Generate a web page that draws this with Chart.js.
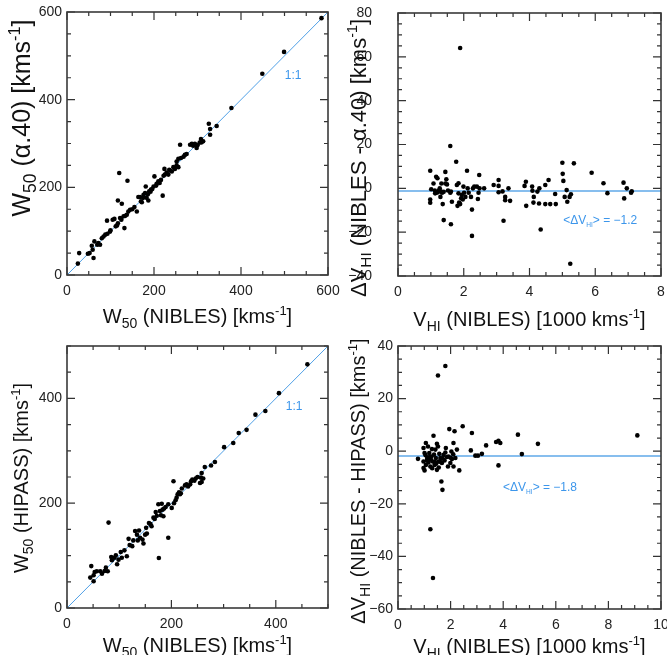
<!DOCTYPE html>
<html><head><meta charset="utf-8">
<script src="https://cdn.jsdelivr.net/npm/chart.js@4"></script>
<style>
html,body{margin:0;padding:0;background:#fff;width:667px;height:655px;overflow:hidden}
canvas{position:absolute;left:0;top:0;pointer-events:none}
</style></head><body>
<canvas id="c1" width="667" height="655"></canvas>
<canvas id="c2" width="667" height="655"></canvas>
<canvas id="c3" width="667" height="655"></canvas>
<canvas id="c4" width="667" height="655"></canvas>
<script>
// ---------- DATA ----------
// Panel 1: W50 NIBLES vs W50 alpha.40
const w50NiblesA = [25,28,48,57,59,61,63,69.5,76,80, 84,88,93,92,99,105,109,112,117,122,
  125,132,130,134,137.5,141,145,155,160.5,117, 126,120,139,164,168,172,176,179.5,181,183,
  187,189,193,199,201,206,210,216,220,222, 225,224,229,235,241,244.5,248,252,256,262,
  260,271,283,287,290,294,298,308,309.5,313, 326,329,329,344,378,449,499,585,
  170,175,186,192,196,205,213,233,238,252, 256,268,275,300,305,100,115,150,72,52];
const w50Alpha = [26,50,48.6,66.8,57.7,38.7,76.7,69,69,84, 88,92,94,124,99,126,128,111,118,130,
  126,107,134,135,137.6,145,149,155,145,170, 162.6,232.6,215,178,178,166,183,187,202,176,
  170,191,195,202,225,208,214,217,181,226.5, 229,242,234,240,236,246,242,259,265,267,
  297,274,297,299.5,295,299.5,290,310,302.6,305, 345,333,320,340,381,459,509,586,
  168,176,184,190,196,204,210,229,238,250, 246,270,276,296,302,102,113,150,73,50];
const oneToOneA = [0, 600];

// Panel 2: V_HI NIBLES [1000 km/s] vs dV (NIBLES - alpha.40)
const vhiA = [0.98,0.98,0.98,1.01,1.08,1.16,1.2,1.13,1.18,1.24,
  1.27,1.29,1.32,1.34,1.36,1.39,1.44,1.44,1.47,1.49,
  1.39,1.59,1.61,1.59,1.61,1.64,1.77,1.79,1.84,1.84,
  1.81,1.89,1.89,1.94,1.97,1.99,2.01,2.05,2.1,2.12,
  2.15,2.22,2.25,2.25,2.28,2.32,2.4,2.45,2.43,2.47,
  2.48,2.62,2.91,3.06,3.06,3.06,3.18,3.21,3.26,3.26,
  3.36,3.41,3.85,3.89,3.9,4.08,4.09,4.12,4.13,4.24,
  4.29,4.3,4.34,4.48,4.48,4.58,4.63,4.78,4.8,5.0,
  5.01,5.03,5.07,5.13,5.15,5.22,5.26,5.35,5.24,5.89,
  6.25,6.37,6.86,6.88,6.96,7.11,7.09,1.12,1.22,1.3,
  1.52,1.92,1.86];
const dvA = [8.0,-5.1,-6.6,-0.4,2.2,5.3,4.6,-2.3,-2.0,-1.1,
  0,-3.9,2.2,-2.0,-7.2,-1.6,2.2,7.5,4.1,1.8,
  -14.5,-2.0,-1.5,19.3,-16.4,-6.1,12.1,1.5,2.3,-2.3,
  -8.0,-7.2,64,-3.0,-5.1,0.8,-2.0,-3.9,8.0,0,
  -2.0,-3.9,-9.7,-21.7,0,0.8,0.8,-2.0,-4.9,6.1,
  0,0,1.5,1.1,3.8,-1.8,-1.4,-14.8,-3.9,-5.4,
  0,-5.7,1.1,3.0,-8.0,0.8,-1.1,-6.5,-3.9,-1.5,
  -6.9,0,-18.8,-7.2,1.5,3.8,-7.2,-2.6,-7.2,11.7,
  6.6,3.4,-3.9,-0.8,-6.1,-3.9,-2.7,11.4,-34.4,7.1,
  2.3,-2.2,2.6,-4.6,0,-1.3,-2.0,-1.0,-1.6,-1.4,
  -1.0,-4.5,-6.5];
const meanA = [-1.2];

// Panel 3: W50 NIBLES vs W50 HIPASS
const w50NiblesH = [46.5,44.6,51,53,51,57,63.7,67,72,74.5,
  78,79.6,84.7,86,91,93.6,96,98.7,103,105,
  110,114.6,118,120,127,130.5,134,135.6,138,140,
  144.6,146.5,149.7,151.6,153,157,162,165.6,170,175,
  176,178,180,181.5,183,184.7,189,194,194,200.6,
  204,208,210,212,214.6,216.5,220,226,229,237.6,
  240,246.5,250,256.7,254.8,258,261,258,264,276,
  283.4,301,318.5,329,344,361,380,406,460.5,
  168,172,186,205,218,232,236,244,125,160];
const w50Hipass = [80,58,62.4,68.8,51,70,70,65.6,70.7,77,
  70,163,97.4,91,96,100.6,83.4,92.3,107,96,
  110,98.7,132,120,129,147,140,129,148,134,
  130.5,123,140,153,142,162,156,172.4,183,198,
  95.5,185,177,199,187.7,175,192.8,134,198,191,
  241.8,205.5,210.6,217,221,217,228,234,236,242,
  245,247,250,248.8,238.6,240.5,247,257.7,269,272,
  278.7,307,315,334,340,369,376,410,465,
  170,176,190,200,219,232,236,243,118,160];
const oneToOneH = [0, 500];

// Panel 4: V_HI NIBLES [1000 km/s] vs dV (NIBLES - HIPASS)
const vhiH = [0.76,0.97,1.01,0.97,0.97,1.01,1.06,1.06,1.11,1.14,
  1.16,1.19,1.23,1.27,1.29,1.32,1.35,1.37,1.39,1.42,
  1.44,1.48,1.48,1.52,1.54,1.57,1.61,1.65,1.67,1.69,
  1.73,1.77,1.8,1.82,1.86,1.9,1.92,1.95,1.99,2.03,
  2.05,2.11,2.11,2.15,2.18,2.24,2.33,2.46,2.77,2.81,
  2.94,3.04,3.19,3.35,3.73,3.82,3.89,3.82,4.56,4.71,
  5.32,9.1,1.52,1.8,1.23,1.33,1.1,1.2,1.25,1.3,
  1.45,1.55,1.6,1.7,2.0,2.1,1.4,1.05];
const dvH = [-2.9,1.2,-0.7,-3.9,-6.4,-7.3,-5.2,3.1,-2.6,1.8,
  -4.3,-0.7,-5.8,-2.0,0.8,-3.9,5.9,-1.3,-5.2,0.6,
  -2.6,-7.1,2.8,1.8,-3.9,-1.0,-2.6,-11.5,-4.5,-14.7,
  -1.4,-3.5,-0.5,1.2,-2.2,-5.8,-2.0,8.4,-4.5,-0.1,
  -3.0,-5.8,3.1,7.6,-2.6,0.6,-7.3,9.5,0.3,6.9,
  -1.7,-1.7,-1.0,2.2,3.5,4.0,3.1,-5.4,6.3,-1.1,
  2.8,6.0,28.8,32.4,-29.7,-48.2,-3.5,-2.2,-3.2,-6.5,
  -4.8,-6.2,-4.0,-2.8,-2.5,-1.2,-4.0,-1.5];
const meanH = [-1.8];

// ---------- DRAWING ----------
const FONT = '"Liberation Sans", Arial, Helvetica, sans-serif';
const BLUE_TXT = 'rgb(60,150,235)';
const N = t => ({t, k: 'n'});
const SUB = t => ({t, k: 'sub'});
const SUP = t => ({t, k: 'sup'});

function segFont(k, size) {
  if (k === 'sub') return {s: size * 0.7, dy: size * 0.25};
  if (k === 'sup') return {s: size * 0.65, dy: -size * 0.4};
  return {s: size, dy: 0};
}

function richText(ctx, segs, x, y, size, rot, color, subScale) {
  ctx.save();
  ctx.translate(x, y);
  if (rot) ctx.rotate(-Math.PI / 2);
  ctx.fillStyle = color || '#111';
  ctx.textBaseline = 'alphabetic';
  ctx.textAlign = 'left';
  const items = segs.map(s => {
    const f = segFont(s.k, size);
    if (s.k === 'sub' && subScale) f.s = size * subScale;
    return {t: s.t, s: f.s, dy: f.dy};
  });
  let total = 0;
  for (const s of items) { ctx.font = s.s + 'px ' + FONT; total += ctx.measureText(s.t).width; }
  let cx = -total / 2;
  const base = size * 0.36;
  for (const s of items) {
    ctx.font = s.s + 'px ' + FONT;
    ctx.fillText(s.t, cx, s.dy + base);
    cx += ctx.measureText(s.t).width;
  }
  ctx.restore();
}

const kms = [N(' [kms'), SUP('-1'), N(']')];
const w50 = [N('W'), SUB('50')];
const vhiTitle = [N('V'), SUB('HI'), N(' (NIBLES) [1000 kms'), SUP('-1'), N(']')];

const fmt = v => (v < 0 ? '\u2212' + Math.abs(v) : '' + v);

function makeChart(id, c) {
  const canvas = document.getElementById(id);
  const W = canvas.width, H = canvas.height;
  const frame = {
    id: 'frame' + id,
    afterDraw(chart) {
      const ctx = chart.ctx, a = chart.chartArea;
      const xs = chart.scales.x, ys = chart.scales.y;
      ctx.save();
      ctx.strokeStyle = '#333';
      ctx.lineWidth = 1.2;
      const nx = Math.round((c.xMax - c.xMin) / c.xMinor);
      for (let i = 0; i <= nx; i++) {
        const v = c.xMin + i * c.xMinor;
        const r = v / c.xStep;
        const len = Math.abs(r - Math.round(r)) < 1e-6 ? 8 : 4;
        const p = xs.getPixelForValue(v);
        ctx.beginPath();
        ctx.moveTo(p, a.bottom); ctx.lineTo(p, a.bottom - len);
        ctx.moveTo(p, a.top); ctx.lineTo(p, a.top + len);
        ctx.stroke();
      }
      const ny = Math.round((c.yMax - c.yMin) / c.yMinor);
      for (let i = 0; i <= ny; i++) {
        const v = c.yMin + i * c.yMinor;
        const r = v / c.yStep;
        const len = Math.abs(r - Math.round(r)) < 1e-6 ? 8 : 4;
        const p = ys.getPixelForValue(v);
        ctx.beginPath();
        ctx.moveTo(a.left, p); ctx.lineTo(a.left + len, p);
        ctx.moveTo(a.right, p); ctx.lineTo(a.right - len, p);
        ctx.stroke();
      }
      ctx.lineWidth = 1.6;
      ctx.strokeStyle = '#3a3a3a';
      ctx.strokeRect(a.left, a.top, a.right - a.left, a.bottom - a.top);
      ctx.restore();
      for (const n of c.notes) {
        richText(ctx, n.segs, xs.getPixelForValue(n.x), ys.getPixelForValue(n.y), 12, false, BLUE_TXT, n.subScale);
      }
      richText(ctx, c.xTitle, (a.left + a.right) / 2, c.xTitleY, c.xTitleSize, false, '#111');
      richText(ctx, c.yTitle, c.yTitleX, c.yTitleY, c.yTitleSize, true, '#111');
    }
  };
  const datasets = [{
    type: 'scatter',
    data: c.xs.map((x, i) => ({x, y: c.ys[i]})),
    backgroundColor: '#000', borderColor: '#000', pointRadius: 2.3, pointBorderWidth: 0
  }];
  for (const l of c.lines) {
    datasets.push({
      type: 'line', data: l.pts, borderColor: l.color, borderWidth: l.width,
      pointRadius: 0, fill: false, tension: 0
    });
  }
  return new Chart(canvas, {
    type: 'scatter',
    data: {datasets},
    options: {
      responsive: false, animation: false, events: [],
      plugins: {legend: {display: false}, tooltip: {enabled: false}, title: {display: false}},
      layout: {padding: {left: 0, top: c.box.t, right: W - c.box.r, bottom: 0}},
      scales: {
        x: {
          type: 'linear', min: c.xMin, max: c.xMax,
          border: {display: false}, grid: {display: false, drawTicks: false},
          ticks: {stepSize: c.xStep, includeBounds: false, padding: 8, autoSkip: false, maxRotation: 0,
            font: {size: 14, family: FONT}, color: '#222', callback: fmt},
          afterFit(s) { s.height = H - c.box.b; s.paddingLeft = 0; s.paddingRight = 0; }
        },
        y: {
          type: 'linear', min: c.yMin, max: c.yMax,
          border: {display: false}, grid: {display: false, drawTicks: false},
          ticks: {stepSize: c.yStep, includeBounds: false, padding: c.yPad, autoSkip: false,
            font: {size: 14, family: FONT}, color: '#222', callback: fmt},
          afterFit(s) { s.width = c.box.l; s.paddingTop = 0; s.paddingBottom = 0; }
        }
      }
    },
    plugins: [frame]
  });
}

const LINE_BLUE = 'rgb(80,160,230)';
const MEAN_BLUE = 'rgb(135,190,238)';

makeChart('c1', {
  box: {l: 67, t: 12, r: 328, b: 275},
  xMin: 0, xMax: 600, xStep: 200, xMinor: 50,
  yMin: 0, yMax: 600, yStep: 200, yMinor: 50, yPad: 5,
  xs: w50NiblesA, ys: w50Alpha,
  lines: [{pts: [{x: oneToOneA[0], y: oneToOneA[0]}, {x: oneToOneA[1], y: oneToOneA[1]}], color: LINE_BLUE, width: 1}],
  notes: [{x: 520, y: 457, segs: [N('1:1')]}],
  xTitle: [...w50, N(' (NIBLES)'), ...kms], xTitleY: 316, xTitleSize: 20,
  yTitle: [...w50, N(' (\u03b1.40)'), ...kms], yTitleX: 21, yTitleY: 118, yTitleSize: 25
});

makeChart('c2', {
  box: {l: 398, t: 13, r: 661, b: 276},
  xMin: 0, xMax: 8, xStep: 2, xMinor: 0.5,
  yMin: -40, yMax: 80, yStep: 20, yMinor: 5, yPad: 26,
  xs: vhiA, ys: dvA,
  lines: [{pts: [{x: 0, y: meanA[0]}, {x: 8, y: meanA[0]}], color: MEAN_BLUE, width: 2}],
  notes: [{x: 6.15, y: -14.5, subScale: 0.55, segs: [N('<\u0394V'), SUB('HI'), N('> = \u22121.2')]}],
  xTitle: vhiTitle, xTitleY: 319, xTitleSize: 20,
  yTitle: [N('\u0394V'), SUB('HI'), N(' (NIBLES - \u03b1.40)'), ...kms], yTitleX: 358, yTitleY: 158, yTitleSize: 22
});

makeChart('c3', {
  box: {l: 67, t: 346, r: 328, b: 608},
  xMin: 0, xMax: 500, xStep: 200, xMinor: 50,
  yMin: 0, yMax: 500, yStep: 200, yMinor: 50, yPad: 5,
  xs: w50NiblesH, ys: w50Hipass,
  lines: [{pts: [{x: oneToOneH[0], y: oneToOneH[0]}, {x: oneToOneH[1], y: oneToOneH[1]}], color: LINE_BLUE, width: 1}],
  notes: [{x: 435, y: 387, segs: [N('1:1')]}],
  xTitle: [...w50, N(' (NIBLES)'), ...kms], xTitleY: 645, xTitleSize: 20,
  yTitle: [...w50, N(' (HIPASS)'), ...kms], yTitleX: 21, yTitleY: 478, yTitleSize: 20
});

makeChart('c4', {
  box: {l: 398, t: 346, r: 661, b: 609},
  xMin: 0, xMax: 10, xStep: 2, xMinor: 0.5,
  yMin: -60, yMax: 40, yStep: 20, yMinor: 5, yPad: 5,
  xs: vhiH, ys: dvH,
  lines: [{pts: [{x: 0, y: meanH[0]}, {x: 10, y: meanH[0]}], color: MEAN_BLUE, width: 2}],
  notes: [{x: 5.4, y: -13.6, subScale: 0.55, segs: [N('<\u0394V'), SUB('HI'), N('> = \u22121.8')]}],
  xTitle: vhiTitle, xTitleY: 646, xTitleSize: 20,
  yTitle: [N('\u0394V'), SUB('HI'), N(' (NIBLES - HIPASS)'), ...kms], yTitleX: 358, yTitleY: 481, yTitleSize: 20
});
</script>
</body></html>
